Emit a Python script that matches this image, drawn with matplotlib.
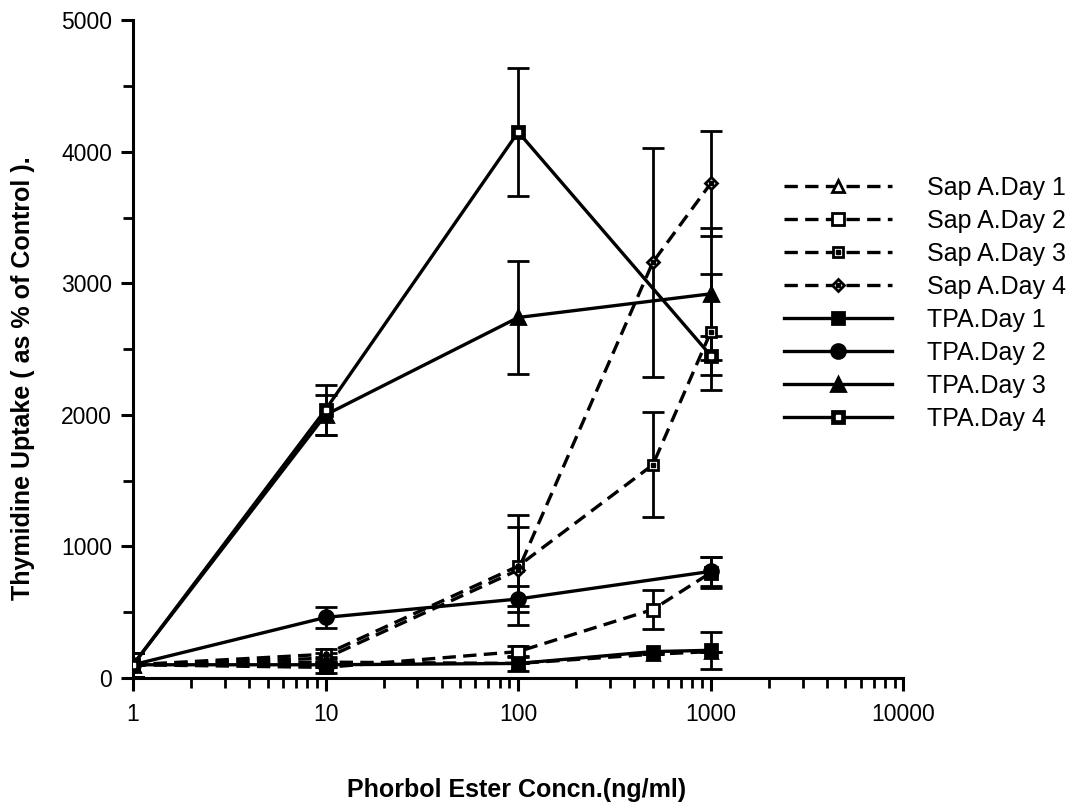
import numpy as np
import matplotlib
matplotlib.use("Agg")
import matplotlib.pyplot as plt
from matplotlib.lines import Line2D
from matplotlib.legend_handler import HandlerTuple

plt.rcParams['font.family'] = ['Liberation Sans', 'DejaVu Sans']

# concentraciones (ng/ml)
conc_sap = [1, 10, 100, 500, 1000]
conc_tpa4 = [1, 10, 100, 1000]
conc_tpa3 = [1, 10, 100, 1000]
conc_tpa2 = [1, 10, 100, 1000]
conc_tpa1 = [1, 10, 100, 500, 1000]

# Sap A
sap_d1 = [100, 120, 110, 180, 200]
sap_d1_err = [0, 0, 0, 0, 0]
sap_d2 = [100, 80, 200, 520, 800]
sap_d2_err = [90, 0, 40, 150, 120]
sap_d3 = [100, 180, 850, 1620, 2630]
sap_d3_err = [90, 40, 300, 400, 440]
sap_d4 = [100, 150, 820, 3160, 3760]
sap_d4_err = [90, 40, 420, 870, 400]

# TPA
tpa_d1 = [100, 100, 110, 200, 210]
tpa_d1_err = [90, 60, 60, 0, 140]
tpa_d2 = [100, 460, 600, 810]
tpa_d2_err = [90, 80, 100, 110]
tpa_d3 = [100, 2000, 2740, 2920]
tpa_d3_err = [90, 150, 430, 500]
tpa_d4 = [100, 2040, 4150, 2450]
tpa_d4_err = [90, 190, 490, 150]

fig = plt.figure(figsize=(10.76, 8.08), dpi=100)
ax = fig.add_axes([0.1236, 0.161, 0.716, 0.814])

lw = 2.4
kw = dict(color='black', linewidth=lw, elinewidth=2.0, capsize=8, capthick=2.0)
dash = (0, (4, 2.2))


def serie(x, y, e, ls, marker, mfc, size, dot=None):
    ax.errorbar(x, y, yerr=e, linestyle=ls, marker=marker, markersize=size,
                markerfacecolor=mfc, markeredgecolor='black', markeredgewidth=2, **kw)
    h = Line2D([], [], color='black', linewidth=lw, linestyle=ls, marker=marker,
               markersize=size, markerfacecolor=mfc, markeredgecolor='black', markeredgewidth=2)
    if dot is not None:
        # punto central del marcador
        ax.plot(x, y, linestyle='none', marker='s', markersize=2.5, color=dot, zorder=5)
        d = Line2D([], [], linestyle='none', marker='s', markersize=2.5, color=dot)
        return (h, d)
    return h


handles = [
    serie(conc_sap, sap_d1, sap_d1_err, dash, '^', 'white', 8),
    serie(conc_sap, sap_d2, sap_d2_err, dash, 's', 'white', 9),
    serie(conc_sap, sap_d3, sap_d3_err, dash, 's', 'white', 7, dot='black'),
    serie(conc_sap, sap_d4, sap_d4_err, dash, 'D', 'white', 6.5, dot='black'),
    serie(conc_tpa1, tpa_d1, tpa_d1_err, '-', 's', 'black', 9),
    serie(conc_tpa2, tpa_d2, tpa_d2_err, '-', 'o', 'black', 10),
    serie(conc_tpa3, tpa_d3, tpa_d3_err, '-', '^', 'black', 10),
    serie(conc_tpa4, tpa_d4, tpa_d4_err, '-', 's', 'black', 9, dot='white'),
]
labels = ['Sap A.Day 1', 'Sap A.Day 2', 'Sap A.Day 3', 'Sap A.Day 4',
          'TPA.Day 1', 'TPA.Day 2', 'TPA.Day 3', 'TPA.Day 4']

ax.set_xscale('log')
ax.set_xlim(1, 10000)
ax.set_ylim(0, 5000)
ax.set_yticks([0, 1000, 2000, 3000, 4000, 5000])
ax.set_yticks([500, 1500, 2500, 3500, 4500], minor=True)
ax.set_xticks([1, 10, 100, 1000, 10000])
ax.set_xticklabels(['1', '10', '100', '1000', '10000'])
ax.spines['top'].set_visible(False)
ax.spines['right'].set_visible(False)
for s in ('left', 'bottom'):
    ax.spines[s].set_linewidth(2.2)
ax.tick_params(axis='both', which='major', direction='out', length=9, width=2.2,
               labelsize=16.5, pad=6)
ax.tick_params(axis='both', which='minor', direction='out', length=7, width=2.0)
ax.tick_params(axis='x', which='major', pad=9)

# titulos de los ejes
fig.text(0.021, 0.532, 'Thymidine Uptake ( as % of Control ).', fontsize=18,
         fontweight='bold', rotation=90, ha='center', va='center')
fig.text(0.48, 0.022, 'Phorbol Ester Concn.(ng/ml)', fontsize=18,
         fontweight='bold', ha='center', va='center')

fig.legend(handles, labels, loc='upper left', bbox_to_anchor=(0.708, 0.81),
           frameon=False, fontsize=18, handlelength=4.3, handletextpad=1.4,
           labelspacing=0.36, handler_map={tuple: HandlerTuple(ndivide=1, pad=0)})

fig.savefig('out.png', dpi=100)
